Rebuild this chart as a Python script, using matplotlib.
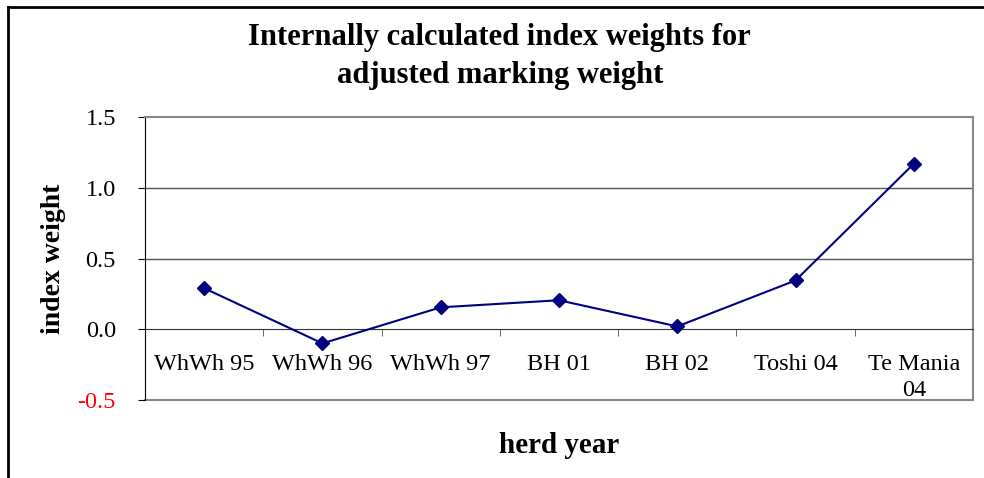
import numpy as np
import matplotlib
matplotlib.use('Agg')
import matplotlib.pyplot as plt
from matplotlib.lines import Line2D

# data
herds = ['WhWh 95', 'WhWh 96', 'WhWh 97', 'BH 01', 'BH 02', 'Toshi 04', 'Te Mania\n04']
weights = [0.29, -0.10, 0.155, 0.205, 0.02, 0.345, 1.17]
yticks = [-0.5, 0.0, 0.5, 1.0, 1.5]

plt.rcParams['font.family'] = ['Liberation Serif', 'DejaVu Serif']

fig = plt.figure(figsize=(9.84, 4.78), dpi=100)
ax = fig.add_axes([0.1474, 0.1632, 0.8414, 0.592])

x = np.arange(len(herds))
ax.plot(x, weights, color='#000080', lw=1.5, marker='D', ms=7.5, zorder=5)

ax.set_xlim(-0.5, len(herds) - 0.5)
ax.set_ylim(-0.5, 1.5)

# gridlines
for yv in [0.5, 1.0]:
    ax.axhline(yv, color='#555555', lw=1, zorder=1)
ax.axhline(-0.5, color='#888888', lw=1.5, zorder=1, clip_on=False)

# category axis crosses at 0
ax.spines['bottom'].set_position(('data', 0))
ax.spines['bottom'].set_color('#333333')
ax.spines['left'].set_color('black')
ax.spines['top'].set_color('#888888')
ax.spines['right'].set_color('#888888')
ax.spines['top'].set_linewidth(1.5)
ax.spines['right'].set_linewidth(1.5)

ax.set_xticks(x)
ax.set_xticklabels(herds, fontsize=17.5, linespacing=1.3)
ax.set_xticks(np.arange(0.5, len(herds), 1.0), minor=True)
ax.tick_params(axis='x', which='major', length=0, pad=18)
ax.tick_params(axis='x', which='minor', length=5, direction='out', color='#555555')

ax.set_yticks(yticks)
ax.set_yticklabels(['%.1f' % v for v in yticks], fontsize=17.5)
ax.tick_params(axis='y', length=5, direction='out', pad=16)
ax.get_yticklabels()[0].set_color('red')

ax.set_ylabel('index weight', fontsize=20, fontweight='bold', labelpad=8)
fig.text(0.568, 0.069, 'herd year', fontsize=21, fontweight='bold', ha='center', va='center')

fig.text(0.508, 0.882, 'Internally calculated index weights for\nadjusted marking weight',
         fontsize=22, fontweight='bold', ha='center', va='center', linespacing=1.38)

# outer chart frame (left and top edges visible)
fig.add_artist(Line2D([0.0085, 0.0085], [0.0, 0.985], color='black', lw=2, transform=fig.transFigure))
fig.add_artist(Line2D([0.0085, 1.0], [0.985, 0.985], color='black', lw=2, transform=fig.transFigure))

fig.savefig('out.png', dpi=100)
